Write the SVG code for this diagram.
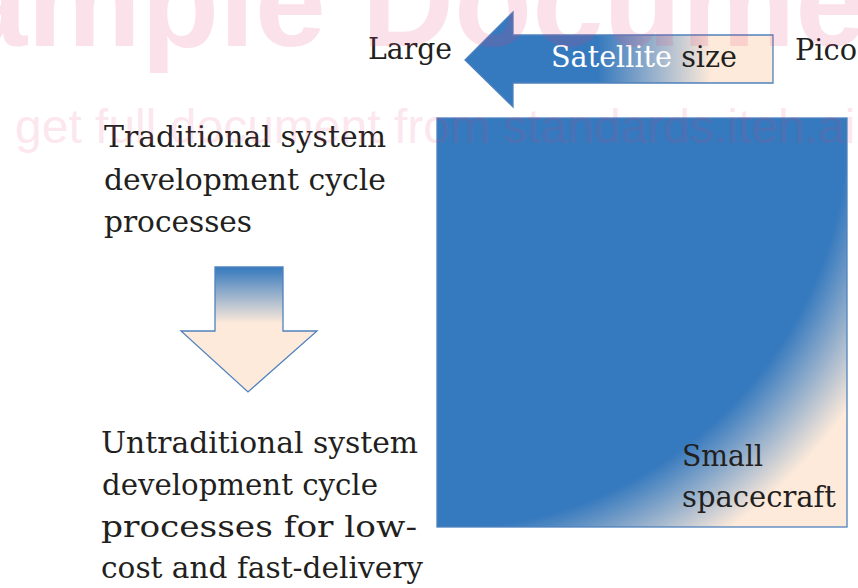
<svg xmlns="http://www.w3.org/2000/svg" width="858" height="588" viewBox="0 0 858 588">
  <defs>
    <!-- left-pointing size arrow: blue head fading to peach tail -->
    <linearGradient id="gSize" gradientUnits="userSpaceOnUse" x1="465" y1="0" x2="773" y2="0">
      <stop offset="0.43" stop-color="#3579be"/>
      <stop offset="0.80" stop-color="#fdeada"/>
    </linearGradient>
    <!-- downward process arrow: blue top fading to peach -->
    <linearGradient id="gDown" gradientUnits="userSpaceOnUse" x1="0" y1="267" x2="0" y2="392">
      <stop offset="0" stop-color="#3579be"/>
      <stop offset="0.45" stop-color="#fdeada"/>
    </linearGradient>
    <!-- spacecraft square: radial fade from top-left toward the bottom-right corner -->
    <radialGradient id="gSquare" gradientUnits="userSpaceOnUse" cx="437" cy="118" r="579">
      <stop offset="0.71" stop-color="#3579be"/>
      <stop offset="0.87" stop-color="#fdeada"/>
    </radialGradient>
  </defs>
  <style>
    .lbl { font-family: "DejaVu Serif", "Liberation Serif", serif; font-size: 30px; fill: #231f20; }
    .shape { stroke: #4f81bd; stroke-width: 1.3; }
    .wm { font-family: "Liberation Sans", Arial, sans-serif; fill: #e8407a; }
  </style>

  <rect width="858" height="588" fill="#ffffff"/>

  <g id="node-size-arrow">
    <path class="shape" d="M465,60 L513,12 L513,35 L773,35 L773,83 L513,83 L513,107 Z" fill="url(#gSize)"/>
    <text class="lbl" x="551" y="67" font-size="31" textLength="186" lengthAdjust="spacingAndGlyphs"><tspan fill="#ffffff">Satellite </tspan><tspan>size</tspan></text>
  </g>

  <g id="node-large">
    <text class="lbl" x="368" y="59" textLength="84" lengthAdjust="spacingAndGlyphs">Large</text>
  </g>

  <g id="node-pico">
    <text class="lbl" x="795" y="60" textLength="62" lengthAdjust="spacingAndGlyphs">Pico</text>
  </g>

  <g id="node-traditional">
    <text class="lbl" x="104" y="147" textLength="282" lengthAdjust="spacingAndGlyphs">Traditional system</text>
    <text class="lbl" x="104" y="190" textLength="282" lengthAdjust="spacingAndGlyphs">development cycle</text>
    <text class="lbl" x="104" y="232" textLength="148" lengthAdjust="spacingAndGlyphs">processes</text>
  </g>

  <g id="node-down-arrow">
    <path class="shape" d="M215,267 L283,267 L283,331 L317,331 L248,392 L181,331 L215,331 Z" fill="url(#gDown)"/>
  </g>

  <g id="node-untraditional">
    <text class="lbl" x="101" y="453" textLength="317" lengthAdjust="spacingAndGlyphs">Untraditional system</text>
    <text class="lbl" x="102" y="495" textLength="276" lengthAdjust="spacingAndGlyphs">development cycle</text>
    <text class="lbl" x="101" y="537" textLength="316" lengthAdjust="spacingAndGlyphs">processes for low-</text>
    <text class="lbl" x="101" y="578" textLength="322" lengthAdjust="spacingAndGlyphs">cost and fast-delivery</text>
  </g>

  <g id="node-spacecraft">
    <rect class="shape" x="437" y="118" width="410" height="409" fill="url(#gSquare)"/>
    <text class="lbl" x="682" y="466" textLength="81" lengthAdjust="spacingAndGlyphs">Small</text>
    <text class="lbl" x="682" y="507" textLength="154" lengthAdjust="spacingAndGlyphs">spacecraft</text>
  </g>

  <g id="connectors"/>

  <!-- translucent preview watermark laid over everything -->
  <g id="watermark">
    <text class="wm" x="-44" y="46" font-size="128" font-weight="bold" opacity="0.15">ample Docume</text>
    <text class="wm" x="15" y="143" font-size="48" opacity="0.12">get full document from standards.iteh.ai</text>
  </g>
</svg>
